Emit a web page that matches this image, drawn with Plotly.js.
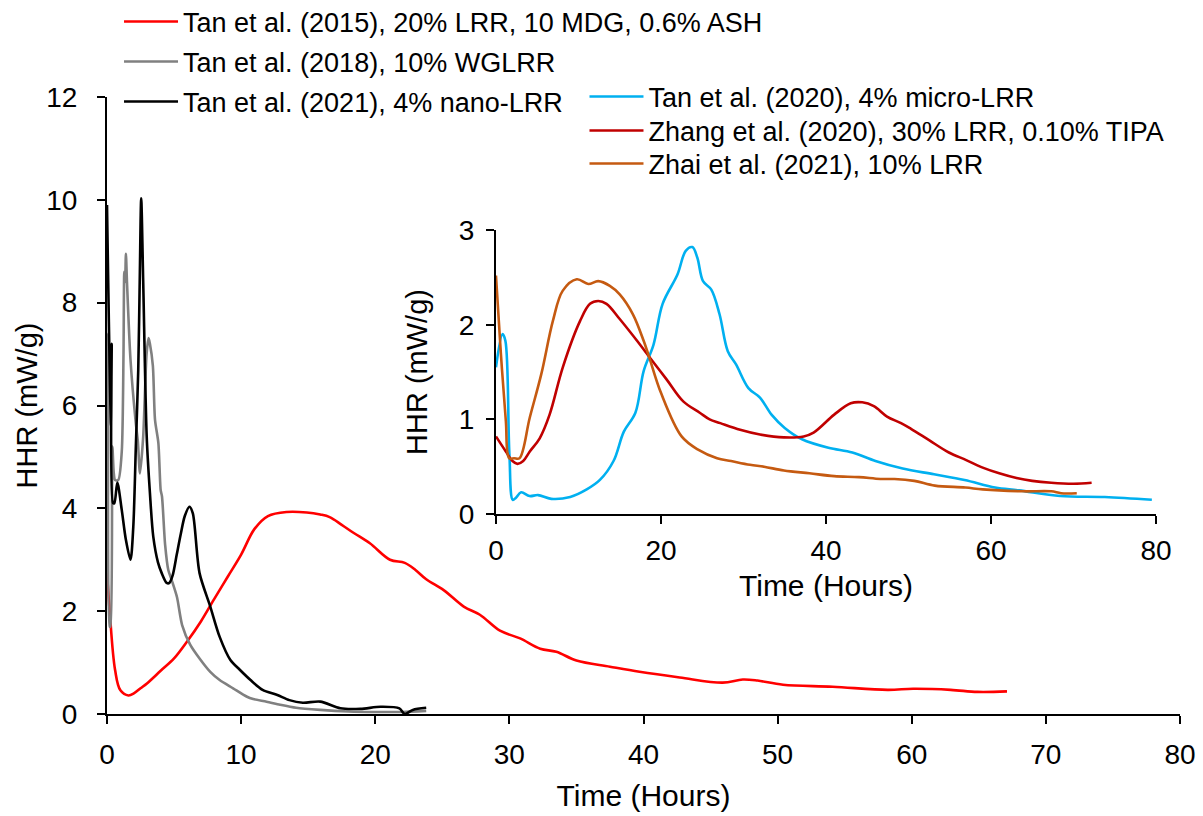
<!DOCTYPE html>
<html>
<head>
<meta charset="utf-8">
<script src="https://cdn.plot.ly/plotly-3.0.1.min.js"></script>
<style>html,body{margin:0;padding:0;background:#fff;}#chart{width:1203px;height:816px;}</style>
</head>
<body>
<div id="chart"></div>
<script>
// ---- Main chart data (Time in hours, HHR in mW/g) ----
const tan2015Name = "Tan et al. (2015), 20% LRR, 10 MDG, 0.6% ASH";
const tan2015T = [0, 0.2, 0.6, 1.0, 1.6, 2.0, 2.5, 3.0, 4.0, 5.0, 6.0, 7.0, 8.0, 9.0, 10.0, 11.0, 12.0, 13.4, 14.9, 15.9, 16.6, 17.5, 18.4, 19.6, 21.1, 22.2, 23.0, 23.8, 25.1, 26.6, 27.8, 29.3, 30.8, 32.3, 33.5, 35.0, 37.5, 39.7, 42.7, 45.9, 47.4, 48.5, 50.4, 54.1, 58.2, 60.1, 62.9, 64.9, 67.1];
const tan2015V = [2.75, 2.0, 0.86, 0.46, 0.36, 0.4, 0.5, 0.6, 0.84, 1.08, 1.42, 1.8, 2.24, 2.67, 3.1, 3.6, 3.85, 3.93, 3.92, 3.88, 3.83, 3.68, 3.52, 3.32, 3.0, 2.94, 2.8, 2.62, 2.41, 2.09, 1.93, 1.62, 1.47, 1.27, 1.21, 1.04, 0.92, 0.82, 0.71, 0.61, 0.67, 0.65, 0.57, 0.53, 0.47, 0.49, 0.47, 0.43, 0.44];

const tan2018Name = "Tan et al. (2018), 10% WGLRR";
const tan2018T = [0, 0.1, 0.2, 0.25, 0.4, 0.5, 0.6, 0.84, 1.1, 1.23, 1.29, 1.35, 1.41, 1.49, 1.75, 2.13, 2.3, 2.46, 2.7, 2.95, 3.1, 3.2, 3.42, 3.58, 3.83, 4.0, 4.1, 4.33, 4.57, 4.83, 5.22, 5.6, 6.2, 6.9, 7.7, 8.4, 9.4, 10.4, 10.9, 11.9, 12.9, 14.1, 15.9, 18, 20, 22, 23.8];
const tan2018V = [4.4, 7.4, 1.7, 1.7, 5.2, 4.7, 4.55, 4.55, 5.1, 7.0, 8.6, 8.4, 8.95, 8.4, 6.9, 5.7, 5.3, 4.68, 5.4, 7.0, 7.31, 7.2, 6.77, 5.72, 5.27, 4.36, 4.23, 3.3, 2.8, 2.6, 2.27, 1.73, 1.35, 1.08, 0.82, 0.66, 0.5, 0.34, 0.29, 0.24, 0.18, 0.12, 0.08, 0.05, 0.04, 0.04, 0.06];

const tan2021Name = "Tan et al. (2021), 4% nano-LRR";
const tan2021T = [0, 0.3, 0.35, 0.45, 0.55, 0.77, 1.1, 1.4, 1.75, 1.96, 2.15, 2.33, 2.45, 2.55, 2.7, 2.96, 3.2, 3.45, 3.8, 4.08, 4.45, 4.65, 4.9, 5.2, 5.5, 5.8, 6.15, 6.4, 6.9, 7.7, 8.4, 9.2, 9.9, 10.7, 11.6, 12.7, 13.6, 14.6, 15.9, 17.4, 18.9, 20.4, 21.8, 22.2, 22.8, 23.8];
const tan2021V = [9.9, 5.6, 7.2, 4.1, 4.1, 4.5, 3.97, 3.4, 3.0, 3.64, 5.2, 6.69, 8.6, 10.03, 8.4, 5.4, 4.3, 3.45, 2.95, 2.74, 2.55, 2.55, 2.7, 3.1, 3.5, 3.85, 4.03, 3.9, 2.74, 2.09, 1.5, 1.05, 0.86, 0.66, 0.47, 0.37, 0.27, 0.22, 0.24, 0.11, 0.1, 0.14, 0.11, 0.0, 0.08, 0.12];

// ---- Inset data ----
const tan2020Name = "Tan et al. (2020), 4% micro-LRR";
const tan2020T = [0, 0.8, 1.14, 1.63, 2.04, 2.4, 3.05, 4.07, 5.1, 6.7, 9.0, 11, 12.6, 14.25, 15.5, 16.9, 17.9, 19.1, 20.2, 22, 23, 23.8, 24.4, 25.1, 26.1, 27.1, 28.1, 29.1, 30.6, 32, 33.4, 35, 37.1, 40.3, 43.2, 46, 49.3, 53.1, 56.8, 60.5, 63.4, 68.4, 73.8, 79.5];
const tan2020V = [1.55, 1.9, 1.83, 0.63, 0.15, 0.17, 0.23, 0.19, 0.2, 0.16, 0.18, 0.26, 0.36, 0.56, 0.87, 1.07, 1.51, 1.79, 2.22, 2.53, 2.78, 2.82, 2.71, 2.46, 2.37, 2.11, 1.72, 1.58, 1.33, 1.23, 1.05, 0.91, 0.79, 0.70, 0.65, 0.56, 0.48, 0.42, 0.36, 0.28, 0.25, 0.19, 0.18, 0.15];

const zhang2020Name = "Zhang et al. (2020), 30% LRR, 0.10% TIPA";
const zhang2020T = [0, 1.2, 2.0, 2.6, 3.3, 4.1, 5.3, 6.5, 8.1, 10.2, 11.4, 12.4, 13.4, 15.0, 17.1, 18.5, 20.7, 22.7, 24.7, 25.9, 27.2, 29.6, 32, 34.9, 37.3, 38.5, 41, 43, 44.4, 45.8, 47.4, 49.1, 50.3, 52.5, 54.9, 57, 59, 61, 63.1, 65, 67.3, 70, 72.2];
const zhang2020V = [0.82, 0.66, 0.56, 0.53, 0.56, 0.66, 0.80, 1.05, 1.55, 2.04, 2.22, 2.25, 2.22, 2.06, 1.83, 1.67, 1.42, 1.19, 1.07, 1.0, 0.96, 0.89, 0.84, 0.81, 0.82, 0.86, 1.05, 1.17, 1.18, 1.14, 1.03, 0.96, 0.90, 0.78, 0.65, 0.57, 0.49, 0.43, 0.38, 0.35, 0.33, 0.32, 0.33];

const zhai2021Name = "Zhai et al. (2021), 10% LRR";
const zhai2021T = [0, 0.6, 1.2, 1.6, 2.2, 2.85, 4.1, 5.5, 6.9, 8.1, 9.8, 11.2, 12.4, 13.8, 15.0, 16.6, 17.9, 18.6, 20.0, 22.5, 24.5, 26.8, 28.5, 30.8, 32.5, 34.9, 38, 41, 44, 46.6, 48.3, 50.7, 53.2, 56.9, 59, 63.9, 67.3, 68.5, 70.4];
const zhai2021V = [2.52, 1.69, 0.98, 0.59, 0.59, 0.59, 1.02, 1.48, 2.04, 2.36, 2.48, 2.43, 2.46, 2.41, 2.32, 2.11, 1.83, 1.65, 1.28, 0.82, 0.68, 0.59, 0.56, 0.52, 0.50, 0.46, 0.43, 0.40, 0.39, 0.37, 0.37, 0.35, 0.30, 0.28, 0.26, 0.24, 0.24, 0.22, 0.22];

const xTicks = [0, 10, 20, 30, 40, 50, 60, 70, 80];
const yTicks = [0, 2, 4, 6, 8, 10, 12];
const xTicksInset = [0, 20, 40, 60, 80];
const yTicksInset = [0, 1, 2, 3];
const xTitle = "Time (Hours)";
const yTitle = "HHR (mW/g)";

const FONT = "Liberation Sans, Arial, sans-serif";
function tr(name, x, y, color, xa, ya, legend, smooth) {
  return {
    type: "scatter", mode: "lines", name: name, x: x, y: y,
    xaxis: xa, yaxis: ya, legend: legend,
    line: {color: color, width: 2.6, shape: "spline", smoothing: smooth},
    hoverinfo: "skip"
  };
}

const data = [
  tr(tan2015Name, tan2015T, tan2015V, "#FF0000", "x", "y", "legend", 1.0),
  tr(tan2018Name, tan2018T, tan2018V, "#808080", "x", "y", "legend2", 0.7),
  tr(tan2021Name, tan2021T, tan2021V, "#000000", "x", "y", "legend3", 0.8),
  tr(tan2020Name, tan2020T, tan2020V, "#00B0F0", "x2", "y2", "legend4", 1.0),
  tr(zhang2020Name, zhang2020T, zhang2020V, "#C00000", "x2", "y2", "legend5", 1.0),
  tr(zhai2021Name, zhai2021T, zhai2021V, "#C55A11", "x2", "y2", "legend6", 1.0)
];

function axis(extra) {
  return Object.assign({
    showgrid: false, zeroline: false, showline: true, linecolor: "#000", linewidth: 2,
    ticks: "outside", ticklen: 8, tickwidth: 2, tickcolor: "#000",
    tickfont: {family: FONT, size: 28, color: "#000"},
    fixedrange: true, automargin: false
  }, extra);
}

function leg(x, yPx) {
  return {x: x, y: (714 - yPx) / 617, xanchor: "left", yanchor: "middle", bgcolor: "rgba(0,0,0,0)",
    font: {family: FONT, size: 27, color: "#000"}, itemwidth: 54};
}
const L1x = 0.0112, L2x = 0.445;

const layout = {
  width: 1203, height: 816,
  paper_bgcolor: "#fff", plot_bgcolor: "rgba(0,0,0,0)",
  margin: {l: 107, r: 23, t: 97, b: 102, autoexpand: false},
  font: {family: FONT, color: "#000"},
  showlegend: true,
  xaxis: axis({range: [0, 80], tickvals: xTicks, ticktext: xTicks.map(String), domain: [0, 1], anchor: "y", ticklabelstandoff: 6,
    title: {text: xTitle, font: {family: FONT, size: 30}, standoff: 16}}),
  yaxis: axis({range: [0, 12], tickvals: yTicks, ticktext: yTicks.map(String), domain: [0, 1], anchor: "x", ticklabelstandoff: 14,
    title: {text: yTitle, font: {family: FONT, size: 29}, standoff: 0}}),
  xaxis2: axis({range: [0, 80], tickvals: xTicksInset, ticktext: xTicksInset.map(String), domain: [0.3625, 0.9776], anchor: "y2", ticklabelstandoff: 2,
    title: {text: xTitle, font: {family: FONT, size: 30}, standoff: 10}}),
  yaxis2: axis({range: [0, 3], tickvals: yTicksInset, ticktext: yTicksInset.map(String), domain: [0.3241, 0.7844], anchor: "x2", ticklabelstandoff: 6,
    title: {text: yTitle, font: {family: FONT, size: 29}, standoff: 23}}),
  legend: leg(L1x, 22),
  legend2: leg(L1x, 62),
  legend3: leg(L1x, 102),
  legend4: leg(L2x, 97),
  legend5: leg(L2x, 131),
  legend6: leg(L2x, 164)
};

Plotly.newPlot("chart", data, layout, {displayModeBar: false, staticPlot: true});
</script>
</body>
</html>
